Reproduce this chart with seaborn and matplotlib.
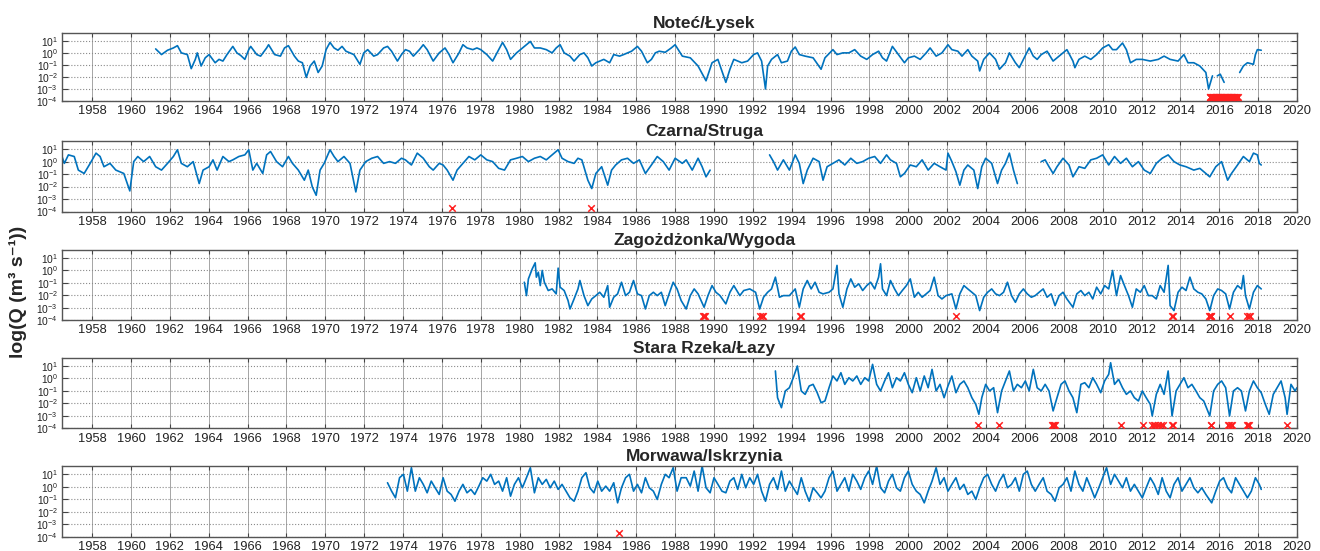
import numpy as np
import pandas as pd
import matplotlib
matplotlib.use("Agg")
import matplotlib.pyplot as plt
import seaborn as sns
from matplotlib.ticker import FixedLocator, NullLocator, LogFormatterSciNotation

# Daily discharge records (decimal year, log10 Q in m3/s); GAP marks missing records
GAP = (np.nan, np.nan)

notec = [
    (1961.27, 0.33), (1961.57, -0.14), (1961.88, 0.22), (1962.18, 0.41), (1962.39, 0.60), (1962.59, 0.00),
    (1962.90, -0.14), (1963.10, -1.31), (1963.31, -0.54), (1963.41, 0.00), (1963.61, -1.09), (1963.82, -0.41),
    (1964.02, -0.14), (1964.33, -0.82), (1964.53, -0.54), (1964.73, -0.68), (1964.94, -0.14), (1965.24, 0.54),
    (1965.45, 0.00), (1965.65, -0.22), (1965.86, -0.54), (1966.06, 0.27), (1966.16, 0.54), (1966.47, -0.14),
    (1966.67, -0.27), (1966.98, 0.41), (1967.08, 0.68), (1967.39, -0.14), (1967.69, -0.27), (1967.90, 0.41),
    (1968.10, 0.60), (1968.41, -0.27), (1968.61, -0.68), (1968.82, -0.82), (1969.02, -2.04), (1969.22, -1.09),
    (1969.43, -0.68), (1969.63, -1.63), (1969.84, -1.09), (1970.04, 0.27), (1970.24, 0.87), (1970.45, 0.41),
    (1970.65, 0.22), (1970.86, 0.54), (1971.06, 0.14), (1971.47, -0.14), (1971.78, -0.95), (1971.98, 0.00),
    (1972.18, 0.27), (1972.49, -0.27), (1972.69, -0.14), (1973.00, 0.41), (1973.20, 0.54), (1973.41, 0.14),
    (1973.71, -0.68), (1973.92, -0.14), (1974.12, 0.27), (1974.33, 0.14), (1974.53, -0.27), (1974.84, 0.27),
    (1975.04, 0.68), (1975.24, 0.27), (1975.55, -0.68), (1975.86, 0.00), (1976.06, 0.27), (1976.16, 0.41),
    (1976.37, -0.14), (1976.57, -0.82), (1976.88, 0.00), (1977.08, 0.68), (1977.29, 0.41), (1977.59, 0.27),
    (1977.80, 0.41), (1978.00, 0.27), (1978.31, -0.14), (1978.61, -0.68), (1978.92, 0.27), (1979.12, 0.87),
    (1979.33, 0.27), (1979.53, -0.54), (1979.84, 0.00), (1980.04, 0.27), (1980.35, 0.68), (1980.55, 0.95),
    (1980.76, 0.41), (1981.06, 0.41), (1981.37, 0.27), (1981.67, 0.00), (1981.88, 0.41), (1982.08, 0.68),
    (1982.29, 0.00), (1982.59, -0.27), (1982.80, -0.68), (1983.10, -0.14), (1983.31, 0.00), (1983.51, -0.41),
    (1983.71, -1.09), (1983.92, -0.82), (1984.12, -0.68), (1984.33, -0.54), (1984.63, -0.82), (1984.84, -0.14),
    (1985.14, -0.27), (1985.35, -0.14), (1985.55, 0.00), (1985.76, 0.14), (1986.06, 0.54), (1986.27, 0.14),
    (1986.57, -0.82), (1986.78, -0.54), (1986.98, 0.00), (1987.18, 0.14), (1987.49, 0.05), (1987.80, 0.41),
    (1988.00, 0.68), (1988.37, -0.27), (1988.78, -0.41), (1989.18, -1.09), (1989.59, -2.32), (1989.90, -0.82),
    (1990.20, -0.54), (1990.61, -2.45), (1990.82, -1.36), (1991.02, -0.54), (1991.43, -0.82), (1991.73, -0.68),
    (1992.04, -0.14), (1992.24, 0.00), (1992.45, -0.68), (1992.65, -3.00), (1992.76, -1.09), (1992.96, -0.54),
    (1993.27, -0.14), (1993.47, -0.82), (1993.78, -0.68), (1993.98, 0.14), (1994.18, 0.49), (1994.39, -0.14),
    (1994.69, -0.27), (1995.10, -0.41), (1995.51, -1.36), (1995.71, -0.41), (1996.12, 0.27), (1996.33, -0.14),
    (1996.63, 0.00), (1996.94, 0.00), (1997.24, 0.27), (1997.55, -0.27), (1997.86, -0.54), (1998.16, -0.14),
    (1998.47, 0.14), (1998.67, -0.41), (1998.88, -0.68), (1999.18, 0.54), (1999.49, -0.14), (1999.80, -0.82),
    (2000.00, -0.41), (2000.31, -0.27), (2000.61, -0.54), (2000.92, 0.00), (2001.12, 0.41), (2001.43, -0.27),
    (2001.73, 0.00), (2002.04, 0.68), (2002.24, 0.27), (2002.55, 0.14), (2002.76, -0.27), (2003.06, 0.27),
    (2003.27, -0.27), (2003.57, -0.68), (2003.67, -1.50), (2003.88, -0.54), (2004.18, 0.00), (2004.49, -0.54),
    (2004.69, -1.36), (2005.00, -0.82), (2005.20, 0.00), (2005.51, -0.82), (2005.71, -1.23), (2005.92, -0.54),
    (2006.22, 0.41), (2006.43, -0.27), (2006.63, -0.54), (2006.84, -0.14), (2007.14, 0.14), (2007.45, -0.68),
    (2007.65, -0.41), (2007.96, 0.00), (2008.16, 0.27), (2008.47, -0.68), (2008.57, -1.23), (2008.78, -0.54),
    (2009.08, -0.27), (2009.39, -0.54), (2009.69, -0.14), (2010.00, 0.41), (2010.31, 0.68), (2010.51, 0.27),
    (2010.71, 0.27), (2011.02, 0.82), (2011.22, 0.27), (2011.43, -0.82), (2011.73, -0.54), (2012.04, -0.54),
    (2012.45, -0.68), (2012.86, -0.54), (2013.16, -0.27), (2013.47, -0.54), (2013.88, -0.68), (2014.18, -0.14),
    (2014.39, -0.82), (2014.69, -0.82), (2015.00, -1.09), (2015.31, -1.63), (2015.45, -3.00), (2015.55, -2.45),
    (2015.65, -1.91), GAP, (2015.90, -1.91), (2016.05, -1.77), (2016.25, -2.45), GAP, (2017.05, -1.63),
    (2017.24, -1.09), (2017.45, -0.82), (2017.76, -0.95), (2017.86, -0.14), (2017.96, 0.27), (2018.16, 0.22),
]

czarna = [
    (1956.45, 0.41), (1956.57, -0.14), (1956.78, 0.54), (1957.08, 0.41), (1957.29, -0.68), (1957.59, -0.95),
    (1957.90, -0.14), (1958.20, 0.68), (1958.41, 0.41), (1958.61, -0.41), (1958.92, -0.14), (1959.22, -0.68),
    (1959.63, -0.95), (1959.94, -2.35), (1960.14, 0.00), (1960.35, 0.41), (1960.65, 0.00), (1960.96, 0.41),
    (1961.27, -0.41), (1961.57, -0.68), (1961.88, -0.14), (1962.18, 0.41), (1962.39, 0.95), (1962.59, -0.14),
    (1962.90, -0.41), (1963.20, 0.00), (1963.51, -1.76), (1963.71, -0.68), (1964.02, -0.41), (1964.22, 0.14),
    (1964.43, -0.68), (1964.73, 0.41), (1965.04, 0.00), (1965.24, 0.14), (1965.55, 0.41), (1965.86, 0.54),
    (1966.06, 0.95), (1966.27, -0.68), (1966.47, -0.14), (1966.78, -0.95), (1966.98, 0.54), (1967.18, 0.81),
    (1967.49, 0.00), (1967.80, -0.41), (1968.10, 0.41), (1968.31, -0.14), (1968.61, -0.68), (1968.92, -1.49),
    (1969.12, -0.68), (1969.33, -2.03), (1969.53, -2.70), (1969.73, -0.68), (1969.94, -0.14), (1970.24, 0.95),
    (1970.45, 0.41), (1970.65, 0.00), (1970.96, 0.41), (1971.27, -0.14), (1971.57, -2.43), (1971.78, -0.68),
    (1972.08, 0.00), (1972.39, 0.27), (1972.69, 0.41), (1973.00, -0.14), (1973.31, 0.00), (1973.61, -0.14),
    (1973.92, 0.27), (1974.12, 0.14), (1974.43, -0.27), (1974.73, 0.68), (1975.04, 0.27), (1975.35, -0.41),
    (1975.55, -0.68), (1975.86, -0.14), (1976.06, -0.27), (1976.27, -0.68), (1976.57, -1.49), (1976.78, -0.68),
    (1977.08, -0.14), (1977.39, 0.41), (1977.69, 0.14), (1978.00, 0.54), (1978.31, 0.14), (1978.61, 0.00),
    (1978.92, -0.54), (1979.22, -0.68), (1979.53, 0.14), (1979.84, 0.27), (1980.14, 0.41), (1980.45, 0.00),
    (1980.76, 0.27), (1981.06, 0.41), (1981.37, 0.14), (1981.67, 0.54), (1981.98, 0.95), (1982.18, 0.27),
    (1982.49, 0.00), (1982.80, -0.14), (1983.00, 0.27), (1983.20, 0.14), (1983.51, -1.49), (1983.71, -2.16),
    (1983.92, -0.95), (1984.22, -0.41), (1984.53, -1.89), (1984.73, -0.68), (1984.94, -0.27), (1985.24, 0.14),
    (1985.55, 0.27), (1985.86, -0.14), (1986.16, 0.14), (1986.47, -0.95), (1986.78, -0.27), (1987.08, 0.41),
    (1987.39, 0.00), (1987.69, -0.68), (1988.00, 0.27), (1988.37, -0.14), (1988.57, 0.14), (1988.88, -0.68),
    (1989.18, 0.27), (1989.39, -0.41), (1989.59, -1.22), (1989.80, -0.68), GAP,
    (1992.86, 0.54), (1993.06, 0.00), (1993.27, -0.68), (1993.57, 0.14), (1993.88, -0.68), (1994.18, 0.54),
    (1994.39, -0.14), (1994.59, -1.76), (1994.80, -0.68), (1995.10, 0.27), (1995.41, 0.00), (1995.61, -1.49),
    (1995.82, -0.41), (1996.12, -0.14), (1996.43, 0.14), (1996.73, -0.27), (1997.04, 0.27), (1997.35, -0.14),
    (1997.65, 0.00), (1997.96, 0.27), (1998.27, 0.41), (1998.57, -0.14), (1998.88, 0.54), (1999.08, 0.14),
    (1999.39, -0.14), (1999.59, -1.22), (1999.80, -0.95), (2000.10, -0.27), (2000.41, -0.41), (2000.71, 0.14),
    (2001.02, -0.68), (2001.33, -0.14), (2001.63, -0.41), (2001.94, -0.68), (2002.04, 0.68), (2002.24, 0.00),
    (2002.45, -0.81), (2002.65, -1.89), (2002.86, -0.68), (2003.06, -0.27), (2003.37, -0.68), (2003.57, -2.16),
    (2003.78, -0.41), (2003.98, 0.27), (2004.29, -0.14), (2004.59, -1.76), (2004.80, -0.68), (2005.00, -0.14),
    (2005.20, 0.68), (2005.41, -0.68), (2005.61, -1.76), GAP,
    (2006.84, 0.00), (2007.04, 0.14), (2007.24, -0.41), (2007.45, -0.95), (2007.65, -0.41), (2007.96, 0.27),
    (2008.27, -0.27), (2008.47, -1.22), (2008.78, -0.41), (2009.08, -0.54), (2009.39, 0.14), (2009.69, 0.27),
    (2010.00, 0.54), (2010.31, -0.27), (2010.61, 0.41), (2010.92, -0.14), (2011.22, 0.27), (2011.53, -0.41),
    (2011.84, 0.00), (2012.14, -0.68), (2012.45, -0.95), (2012.76, -0.14), (2013.06, 0.27), (2013.37, 0.54),
    (2013.67, 0.00), (2013.98, -0.27), (2014.29, -0.41), (2014.69, -0.68), (2015.00, -0.54), (2015.31, -0.95),
    (2015.51, -1.22), (2015.82, -0.41), (2016.12, 0.00), (2016.43, -1.49), (2016.63, -0.95), (2016.94, -0.27),
    (2017.24, 0.41), (2017.55, 0.00), (2017.76, 0.68), (2017.96, 0.54), (2018.06, -0.14), (2018.16, -0.27),
]

zagozdzonka = [
    (1980.24, -0.95), (1980.35, -2.03), (1980.45, -0.68), (1980.55, -0.27), (1980.65, 0.14), (1980.80, 0.62),
    (1980.86, -0.54), (1980.96, -0.14), (1981.06, -1.22), (1981.16, 0.00), (1981.27, -0.95), (1981.47, -1.62),
    (1981.67, -1.49), (1981.88, -1.89), (1981.98, 0.19), (1982.08, -1.35), (1982.29, -1.62), (1982.49, -2.43),
    (1982.59, -3.11), (1982.80, -2.30), (1983.00, -1.49), (1983.10, -0.81), (1983.31, -2.03), (1983.51, -2.84),
    (1983.71, -2.30), (1983.92, -2.03), (1984.12, -1.76), (1984.33, -2.16), (1984.53, -1.22), (1984.63, -2.97),
    (1984.84, -2.16), (1985.04, -1.89), (1985.24, -0.95), (1985.45, -2.03), (1985.65, -1.76), (1985.86, -0.81),
    (1986.06, -1.89), (1986.27, -2.03), (1986.47, -3.11), (1986.67, -2.03), (1986.88, -1.76), (1987.08, -2.03),
    (1987.29, -1.76), (1987.49, -2.84), (1987.69, -1.89), (1987.90, -0.95), (1988.10, -1.49), (1988.31, -2.43),
    (1988.57, -3.11), (1988.78, -2.03), (1988.98, -1.49), (1989.18, -1.89), (1989.49, -2.97), (1989.69, -2.03),
    (1989.90, -1.22), (1990.10, -1.76), (1990.31, -2.03), (1990.61, -2.70), (1990.82, -1.76), (1991.02, -1.22),
    (1991.33, -2.03), (1991.53, -1.62), (1991.84, -1.49), (1992.14, -1.76), (1992.35, -3.11), (1992.55, -2.16),
    (1992.76, -1.76), (1992.96, -1.49), (1993.16, -0.54), (1993.37, -2.16), (1993.57, -2.03), (1993.88, -2.03),
    (1994.18, -1.49), (1994.39, -2.97), (1994.59, -1.49), (1994.80, -0.81), (1995.00, -1.49), (1995.20, -0.95),
    (1995.41, -1.76), (1995.61, -1.89), (1995.92, -1.76), (1996.12, -1.49), (1996.33, 0.41), (1996.43, -1.89),
    (1996.63, -2.97), (1996.84, -1.49), (1997.04, -0.68), (1997.24, -1.35), (1997.45, -1.08), (1997.65, -1.62),
    (1997.86, -1.22), (1998.06, -0.95), (1998.27, -1.49), (1998.47, -0.54), (1998.57, 0.54), (1998.67, -1.49),
    (1998.88, -2.03), (1999.08, -0.81), (1999.29, -1.49), (1999.49, -2.03), (1999.69, -1.62), (1999.90, -1.22),
    (2000.10, -0.68), (2000.31, -2.16), (2000.51, -1.76), (2000.71, -2.16), (2000.92, -1.89), (2001.12, -1.62),
    (2001.33, -0.54), (2001.53, -2.03), (2001.73, -2.30), (2001.94, -2.03), (2002.24, -1.89), (2002.45, -3.11),
    (2002.65, -1.89), (2002.86, -1.22), (2003.06, -1.49), (2003.27, -1.76), (2003.47, -2.03), (2003.67, -3.24),
    (2003.88, -2.16), (2004.08, -1.76), (2004.29, -1.49), (2004.49, -1.89), (2004.69, -2.03), (2004.90, -1.76),
    (2005.10, -0.95), (2005.31, -2.03), (2005.51, -2.57), (2005.71, -1.89), (2005.92, -1.49), (2006.12, -1.89),
    (2006.33, -2.16), (2006.53, -2.03), (2006.73, -1.76), (2006.94, -1.49), (2007.14, -2.16), (2007.35, -1.89),
    (2007.55, -2.84), (2007.76, -2.03), (2007.96, -1.76), (2008.16, -2.30), (2008.47, -2.97), (2008.67, -1.89),
    (2008.88, -1.62), (2009.08, -2.03), (2009.29, -1.76), (2009.49, -2.30), (2009.69, -1.35), (2009.90, -1.89),
    (2010.10, -1.22), (2010.31, -1.49), (2010.51, 0.00), (2010.71, -2.03), (2010.92, -0.41), (2011.12, -1.22),
    (2011.33, -2.03), (2011.53, -2.97), (2011.73, -1.49), (2011.94, -1.76), (2012.14, -1.22), (2012.35, -2.03),
    (2012.55, -2.03), (2012.76, -2.30), (2012.96, -1.22), (2013.16, -1.76), (2013.37, 0.41), (2013.47, -2.84),
    (2013.67, -3.24), (2013.88, -1.76), (2014.08, -1.35), (2014.29, -1.62), (2014.49, -0.54), (2014.69, -1.49),
    (2014.90, -1.76), (2015.10, -1.89), (2015.31, -2.30), (2015.51, -3.24), (2015.71, -2.03), (2015.92, -1.49),
    (2016.12, -1.62), (2016.33, -1.89), (2016.53, -3.11), (2016.73, -1.76), (2016.94, -1.22), (2017.14, -1.49),
    (2017.24, -0.41), (2017.35, -2.03), (2017.55, -3.11), (2017.76, -1.76), (2017.96, -1.22), (2018.16, -1.49),
]

stara_rzeka = [
    (1993.16, 0.59), (1993.27, -1.55), (1993.47, -2.35), (1993.67, -1.01), (1993.88, -0.75), (1994.08, 0.05),
    (1994.29, 0.99), (1994.49, -1.01), (1994.69, -1.28), (1994.90, -0.61), (1995.10, -0.48), (1995.31, -1.15),
    (1995.51, -1.95), (1995.71, -1.81), (1995.92, -0.75), (1996.12, 0.19), (1996.33, -0.21), (1996.53, 0.45),
    (1996.73, -0.48), (1996.94, 0.05), (1997.14, -0.21), (1997.35, 0.19), (1997.55, -0.48), (1997.76, 0.05),
    (1997.96, -0.21), (1998.16, 1.12), (1998.37, -0.48), (1998.57, -1.01), (1998.78, -0.21), (1998.98, 0.45),
    (1999.18, -0.75), (1999.39, 0.05), (1999.59, -0.21), (1999.80, 0.45), (2000.00, -0.48), (2000.20, -1.15),
    (2000.41, 0.05), (2000.61, -1.01), (2000.82, 0.19), (2001.02, -0.75), (2001.22, 0.72), (2001.43, -1.01),
    (2001.63, -0.48), (2001.84, -1.55), (2002.04, -0.61), (2002.24, 0.19), (2002.45, -1.15), (2002.65, -0.48),
    (2002.86, -0.21), (2003.06, -0.75), (2003.27, -1.55), (2003.47, -2.08), (2003.63, -2.88), (2003.78, -1.55),
    (2003.98, -0.48), (2004.18, -1.01), (2004.39, -0.75), (2004.59, -2.75), (2004.80, -1.01), (2005.00, -0.21),
    (2005.20, 0.59), (2005.41, -1.01), (2005.61, -0.48), (2005.82, -0.75), (2006.02, -0.21), (2006.22, -1.01),
    (2006.43, 0.72), (2006.63, -0.75), (2006.84, -1.01), (2007.04, -0.48), (2007.24, -1.01), (2007.45, -2.61),
    (2007.65, -1.55), (2007.86, -0.48), (2008.06, -0.21), (2008.27, -1.01), (2008.47, -1.55), (2008.67, -2.75),
    (2008.88, -0.48), (2009.08, -0.35), (2009.29, -0.75), (2009.49, 0.05), (2009.69, -0.48), (2009.90, -1.15),
    (2010.10, -0.21), (2010.31, 0.32), (2010.41, 1.25), (2010.61, -0.48), (2010.82, -0.08), (2011.02, -0.75),
    (2011.22, -1.28), (2011.43, -1.01), (2011.63, -1.55), (2011.84, -1.81), (2012.04, -1.01), (2012.24, -1.55),
    (2012.45, -2.08), (2012.55, -3.01), (2012.76, -1.28), (2012.96, -0.48), (2013.16, -1.28), (2013.37, 0.59),
    (2013.57, -3.01), (2013.78, -1.01), (2013.98, -0.48), (2014.18, 0.05), (2014.39, -0.75), (2014.59, -0.48),
    (2014.80, -1.01), (2015.00, -1.55), (2015.20, -1.81), (2015.51, -3.01), (2015.71, -1.01), (2015.92, -0.48),
    (2016.12, -0.21), (2016.33, -0.75), (2016.53, -3.01), (2016.73, -1.01), (2016.94, -0.75), (2017.14, -1.01),
    (2017.35, -2.61), (2017.55, -1.01), (2017.76, -0.21), (2017.96, -0.75), (2018.16, -1.15), (2018.37, -2.08),
    (2018.57, -2.88), (2018.78, -1.28), (2018.98, -0.75), (2019.18, -0.21), (2019.39, -1.55), (2019.49, -2.88),
    (2019.69, -0.48), (2019.90, -1.01), (2020.00, -0.75),
]

morwawa = [
    (1973.20, 0.32), (1973.41, -0.35), (1973.61, -0.88), (1973.82, 0.72), (1974.02, 0.99), (1974.22, -0.35),
    (1974.43, 1.52), (1974.63, -0.35), (1974.84, 0.72), (1975.04, 0.19), (1975.24, -0.48), (1975.45, 0.45),
    (1975.65, -0.08), (1975.86, -0.61), (1976.06, 0.72), (1976.27, -0.35), (1976.47, -0.61), (1976.67, -1.15),
    (1976.88, -0.35), (1977.08, 0.19), (1977.29, -0.48), (1977.49, -0.21), (1977.69, -0.61), (1977.90, 0.05),
    (1978.10, 0.72), (1978.31, 0.45), (1978.51, 0.99), (1978.71, 0.19), (1978.92, 0.45), (1979.12, -0.35),
    (1979.33, 0.72), (1979.53, -0.75), (1979.73, 0.19), (1979.94, 0.72), (1980.14, -0.08), (1980.35, 0.72),
    (1980.55, 1.52), (1980.76, -0.48), (1980.96, 0.72), (1981.16, 0.19), (1981.37, 0.59), (1981.57, -0.08),
    (1981.78, 0.45), (1981.98, -0.21), (1982.18, 0.19), (1982.39, -0.35), (1982.59, -0.88), (1982.80, -1.15),
    (1983.00, -0.35), (1983.20, 0.72), (1983.41, 1.12), (1983.61, -0.08), (1983.82, -0.48), (1984.02, 0.45),
    (1984.22, -0.35), (1984.43, 0.05), (1984.63, -0.35), (1984.84, 0.32), (1985.04, -1.28), (1985.24, -0.08),
    (1985.45, 0.72), (1985.65, 0.99), (1985.86, -0.35), (1986.06, 0.19), (1986.27, -0.48), (1986.47, 0.72),
    (1986.67, -0.08), (1986.88, -0.35), (1987.08, -1.01), (1987.29, 0.19), (1987.49, 0.99), (1987.69, 0.72),
    (1987.90, 1.52), (1988.10, -0.35), (1988.31, 0.72), (1988.57, 0.72), (1988.78, 0.05), (1988.98, 1.25),
    (1989.18, -0.35), (1989.39, 1.65), (1989.59, -0.08), (1989.80, -0.48), (1990.00, 0.72), (1990.20, 0.19),
    (1990.41, -0.35), (1990.61, -0.48), (1990.82, 0.45), (1991.02, 0.72), (1991.22, -0.21), (1991.43, 0.99),
    (1991.63, -0.08), (1991.84, 0.72), (1992.04, 0.19), (1992.24, 0.99), (1992.45, -0.35), (1992.65, -1.15),
    (1992.86, 0.19), (1993.06, 0.72), (1993.27, -0.21), (1993.47, 1.25), (1993.67, -0.35), (1993.88, 0.45),
    (1994.08, -0.08), (1994.29, -0.61), (1994.49, 0.72), (1994.69, -0.35), (1994.90, -1.15), (1995.10, -0.08),
    (1995.31, -0.48), (1995.51, -0.88), (1995.71, -0.35), (1995.92, 0.72), (1996.12, 1.25), (1996.33, -0.35),
    (1996.53, 0.19), (1996.73, 0.72), (1996.94, -0.35), (1997.14, 0.99), (1997.35, 0.45), (1997.55, -0.21),
    (1997.76, 0.72), (1997.96, 1.25), (1998.16, 0.19), (1998.37, 1.65), (1998.57, -0.08), (1998.78, -0.48),
    (1998.98, 0.45), (1999.18, 0.99), (1999.39, -0.08), (1999.59, -0.35), (1999.80, 0.72), (2000.00, 1.25),
    (2000.20, 0.19), (2000.41, -0.35), (2000.61, -0.61), (2000.82, -1.28), (2001.02, -0.35), (2001.22, 0.45),
    (2001.43, 1.52), (2001.63, 0.19), (2001.84, 0.72), (2002.04, -0.35), (2002.24, 0.19), (2002.45, 0.72),
    (2002.65, -0.21), (2002.86, 0.19), (2003.06, -0.61), (2003.27, -0.35), (2003.47, -1.01), (2003.67, -0.08),
    (2003.88, 0.72), (2004.08, 0.99), (2004.29, 0.19), (2004.49, -0.35), (2004.69, 0.45), (2004.90, 0.99),
    (2005.10, -0.08), (2005.31, 0.19), (2005.51, 0.72), (2005.71, -0.35), (2005.92, 0.99), (2006.12, 1.25),
    (2006.33, 0.19), (2006.53, -0.35), (2006.73, 0.19), (2006.94, 0.72), (2007.14, -0.35), (2007.35, -0.61),
    (2007.55, -1.15), (2007.76, -0.08), (2007.96, 0.19), (2008.16, 0.72), (2008.37, -0.35), (2008.57, 1.25),
    (2008.78, 0.19), (2008.98, -0.35), (2009.18, 0.72), (2009.39, -0.08), (2009.59, -0.88), (2009.80, -0.08),
    (2010.00, 0.72), (2010.20, 1.52), (2010.41, 0.19), (2010.61, 0.99), (2010.82, 0.45), (2011.02, -0.08),
    (2011.22, 0.72), (2011.43, -0.35), (2011.63, 0.19), (2011.84, -0.35), (2012.04, -0.88), (2012.24, -0.08),
    (2012.45, 0.72), (2012.65, 0.19), (2012.86, -0.61), (2013.06, 0.72), (2013.27, -0.35), (2013.47, -0.88),
    (2013.67, 0.19), (2013.88, 0.72), (2014.08, -0.35), (2014.29, 0.19), (2014.49, 0.72), (2014.69, -0.08),
    (2014.90, -0.48), (2015.10, -0.08), (2015.31, -0.61), (2015.61, -1.28), (2015.82, -0.35), (2016.02, 0.45),
    (2016.22, 0.72), (2016.43, -0.08), (2016.63, -0.48), (2016.84, 0.72), (2017.04, 0.19), (2017.24, -0.35),
    (2017.45, -0.88), (2017.65, -0.35), (2017.86, 0.72), (2018.06, 0.19), (2018.16, -0.21),
]

# Days with zero discharge (decimal year)
notec_zero = [
    2015.50, 2015.54, 2015.58, 2015.62, 2015.66, 2015.70, 2015.74, 2015.78, 2015.82, 2015.86, 2015.90,
    2015.94, 2015.98, 2016.02, 2016.06, 2016.10, 2016.14, 2016.18, 2016.22, 2016.26, 2016.30, 2016.34,
    2016.38, 2016.42, 2016.46, 2016.50, 2016.54, 2016.58, 2016.62, 2016.66, 2016.70, 2016.74, 2016.78,
    2016.82, 2016.86, 2016.90, 2016.94,
]
czarna_zero = [1976.53, 1983.65]
zagozdzonka_zero = [
    1989.45, 1989.50, 1989.55, 1992.38, 1992.45, 1992.52, 1994.45, 1994.50, 2002.45, 2013.58, 2013.63,
    2015.45, 2015.50, 2015.55, 2015.60, 2016.55, 2017.45, 2017.52, 2017.60,
]
stara_rzeka_zero = [
    2003.60, 2004.65, 2007.40, 2007.45, 2007.50, 2007.55, 2010.95, 2012.05, 2012.55, 2012.62, 2012.70,
    2012.85, 2013.00, 2013.10, 2013.55, 2013.60, 2015.55, 2015.60, 2016.45, 2016.52, 2016.60, 2016.68,
    2017.45, 2017.50, 2017.55, 2019.50,
]
morwawa_zero = [1985.10]

titles = ["Noteć/Łysek", "Czarna/Struga", "Zagożdżonka/Wygoda", "Stara Rzeka/Łazy", "Morwawa/Iskrzynia"]
series = [notec, czarna, zagozdzonka, stara_rzeka, morwawa]
zero_days = [notec_zero, czarna_zero, zagozdzonka_zero, stara_rzeka_zero, morwawa_zero]

year_ticks = list(range(1958, 2021, 2))
q_ticks = [1e-4, 1e-3, 1e-2, 1e-1, 1e0, 1e1]
ZERO_LEVEL = 2e-4   # vertical position of the zero-flow markers
LINE_BLUE = "#0072BD"

sns.set_theme(style="white")
plt.rcParams["font.family"] = ["Liberation Sans", "DejaVu Sans"]
plt.rcParams["mathtext.default"] = "regular"

W, H = 1320, 551
fig = plt.figure(figsize=(W / 100, H / 100), dpi=100)
panel_px = [(33, 101), (141, 211.5), (250, 320), (357.7, 428.3), (466, 537.0)]

for i, (title, data, zeros, (top, bot)) in enumerate(zip(titles, series, zero_days, panel_px)):
    ax = fig.add_axes([62 / W, 1 - bot / H, 1235 / W, (bot - top) / H])
    ax.set_yscale("log")

    df = pd.DataFrame(data, columns=["year", "logq"])
    df["segment"] = df["year"].isna().cumsum()
    df = df.dropna()
    df["q"] = 10.0 ** df["logq"]
    sns.lineplot(data=df, x="year", y="q", units="segment", estimator=None,
                 color=LINE_BLUE, linewidth=1.2, ax=ax, legend=False)
    if zeros:
        sns.scatterplot(x=zeros, y=[ZERO_LEVEL] * len(zeros), marker="x", color="#ff1f1f",
                        s=22, linewidth=1.1, ax=ax, legend=False, zorder=4)

    ax.set_xlim(1956.45, 2020.0)
    ax.set_ylim(1e-4, 45)
    ax.xaxis.set_major_locator(FixedLocator(year_ticks))
    ax.set_xticklabels([str(y) for y in year_ticks])
    ax.yaxis.set_major_locator(FixedLocator(q_ticks))
    ax.yaxis.set_major_formatter(LogFormatterSciNotation())
    ax.yaxis.set_minor_locator(NullLocator())
    ax.xaxis.set_minor_locator(NullLocator())

    ax.grid(True, axis="y", linestyle=":", color="#8a8a8a", linewidth=0.8)
    ax.grid(True, axis="x", linestyle="-", color="#a5a5a5", linewidth=0.7)
    ax.set_axisbelow(True)

    ax.tick_params(axis="x", direction="in", length=3, width=0.8, color="#444444",
                   labelsize=9.3, pad=2.6 if i == 4 else 3.2, top=True, bottom=True,
                   labelcolor="#222222")
    ax.tick_params(axis="y", direction="in", length=4, width=0.8, color="#444444",
                   labelsize=7.4, pad=3, left=True, right=True, labelcolor="#222222")
    for sp in ax.spines.values():
        sp.set_visible(True)
        sp.set_color("#555555")
        sp.set_linewidth(1.0)

    ax.set_xlabel("")
    ax.set_ylabel("")
    ax.set_title(title, fontsize=12.5, fontweight="bold", x=0.52, pad=3.6)

fig.text(18 / W, 1 - 292 / H, "log(Q (m³ s⁻¹))", rotation=90, fontsize=14,
         fontweight="bold", ha="center", va="center")

fig.savefig("out.png", dpi=100)
